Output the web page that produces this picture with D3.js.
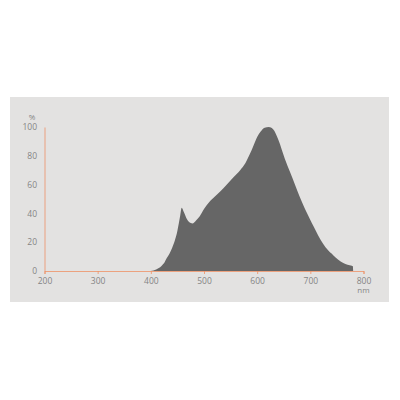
<!DOCTYPE html>
<html>
<head>
<meta charset="utf-8">
<script src="https://cdn.jsdelivr.net/npm/d3@7"></script>
<style>
  body { margin: 0; background: #fff; }
  svg { display: block; }
  .tick text { font-family: "Open Sans", sans-serif; font-size: 8.5px; fill: #858585; }
</style>
</head>
<body>
<script>
// spectrum: wavelength (nm) and relative intensity (%)
var wavelengths = [400, 405, 410, 415, 420, 425, 430, 435, 440, 445, 450, 455, 458, 462, 468, 474, 479, 485, 492, 500,
  510, 520, 530, 543, 555, 568, 578, 586, 593, 600, 607, 614, 622, 630, 640, 652, 662, 671, 680, 690,
  700, 706, 715, 724, 733, 743, 752, 762, 770, 778, 780, 780.5];
var intensity = [0, 0.3, 1, 2, 3.5, 5.5, 9, 12, 16, 21, 28, 38, 44, 41, 36, 33.5, 33, 35, 38, 43,
  48, 51.5, 55, 60, 65, 70, 75, 81, 87, 93, 97, 99.5, 100, 98.5, 91, 78, 68.5, 60, 51.5, 43,
  35.5, 31, 24.5, 19, 14.5, 11, 8, 5.5, 4.3, 3.6, 3.3, 0];
var xTicks = [200, 300, 400, 500, 600, 700, 800];
var yTicks = [0, 20, 40, 60, 80, 100];

var svg = d3.select("body").append("svg")
  .attr("width", 400)
  .attr("height", 400);

svg.append("rect")
  .attr("x", 10).attr("y", 97)
  .attr("width", 379).attr("height", 205)
  .attr("fill", "#e3e2e1");

var x = d3.scaleLinear().domain([200, 800]).range([44.5, 363.5]);
var y = d3.scaleLinear().domain([0, 100]).range([271, 127]);

var area = d3.area()
  .x(function(d, i) { return x(wavelengths[i]); })
  .y0(y(0))
  .y1(function(d) { return y(d); })
  .curve(d3.curveMonotoneX);

svg.append("path")
  .datum(intensity)
  .attr("d", area)
  .attr("fill", "#666666");

var axisColor = "#ee9266";

var xAxis = svg.append("g")
  .attr("transform", "translate(0," + y(0) + ")")
  .call(d3.axisBottom(x).tickValues(xTicks).tickSize(3).tickPadding(4).tickFormat(d3.format("d")));
xAxis.selectAll("path, line").attr("stroke", axisColor).attr("stroke-opacity", 0.8);

var yAxis = svg.append("g")
  .attr("transform", "translate(" + x(200) + ",0)")
  .call(d3.axisLeft(y).tickValues(yTicks).tickSize(0).tickPadding(7.5).tickFormat(d3.format("d")));
yAxis.select(".domain").attr("stroke", axisColor).attr("stroke-opacity", 0.8);

svg.append("text")
  .attr("x", 32).attr("y", 119.5)
  .attr("text-anchor", "middle")
  .attr("font-family", "Open Sans, sans-serif")
  .attr("font-size", 8)
  .attr("fill", "#858585")
  .text("%");

svg.append("text")
  .attr("x", x(800)).attr("y", 293)
  .attr("text-anchor", "middle")
  .attr("font-family", "Open Sans, sans-serif")
  .attr("font-size", 8)
  .attr("fill", "#858585")
  .text("nm");
</script>
</body>
</html>
